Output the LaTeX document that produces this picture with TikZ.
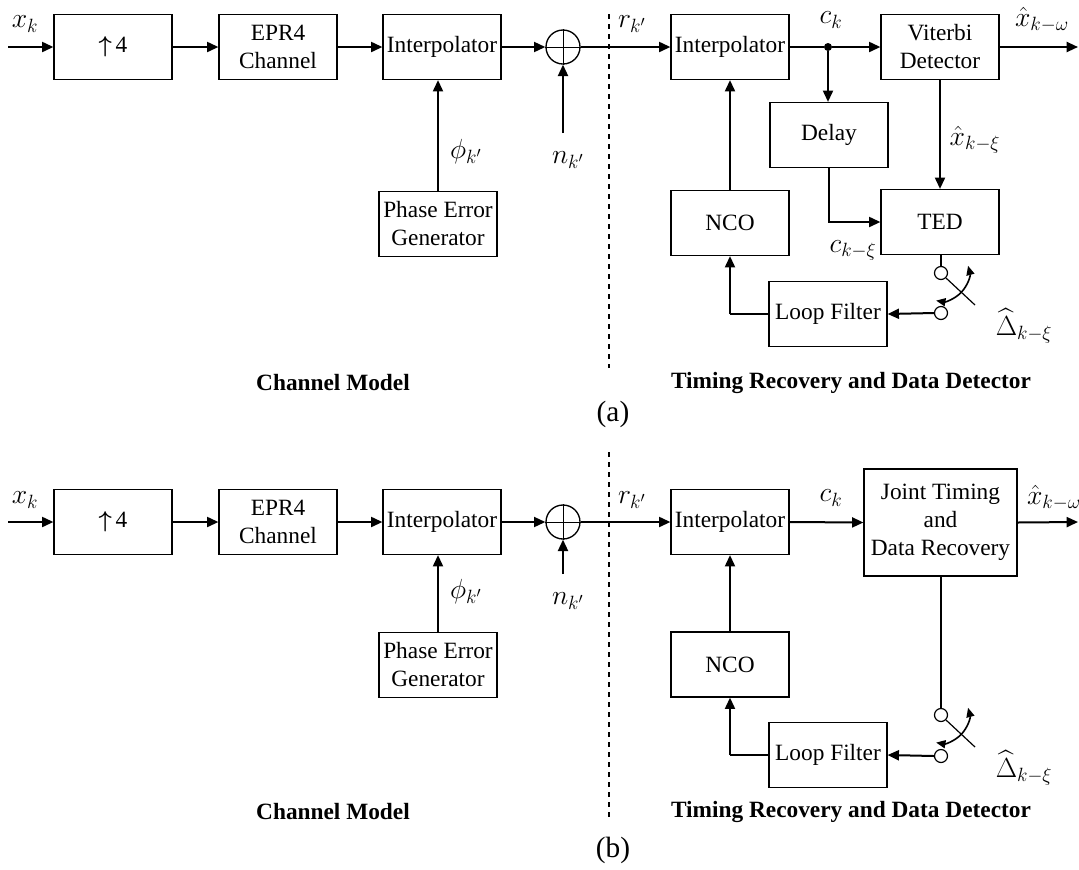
\documentclass[tikz,border=0pt]{standalone}
\usepackage{fontspec}
\usepackage{amsmath}
\setmainfont{Liberation Serif}
\usetikzlibrary{arrows.meta,calc}

\begin{document}
\begin{tikzpicture}[x=0.75pt,y=-0.75pt,
    font=\fontsize{17.5}{21}\selectfont,
    blk/.style={draw,line width=0.9pt,minimum width=88.5pt,minimum height=48.75pt,inner sep=0pt,align=center},
    bigblk/.style={blk,minimum width=114.75pt,minimum height=80.25pt},
    sig/.style={line width=1.5pt,-{Triangle[length=8.5pt,width=7.5pt]}},
    thinln/.style={line width=0.8pt},
    port/.style={draw,circle,line width=0.9pt,minimum size=9.75pt,inner sep=0pt},
    adder/.style={draw,circle,line width=1pt,minimum size=25.5pt,inner sep=0pt},
    knot/.style={fill,circle,minimum size=6pt,inner sep=0pt},
    lbl/.style={inner sep=0pt,font=\fontsize{22}{26}\selectfont},
    heading/.style={inner sep=0pt,font=\fontsize{17.5}{21}\selectfont\bfseries},
    caption/.style={inner sep=0pt,font=\fontsize{22}{26}\selectfont},
    swing/.style={line width=1.2pt,{Triangle[length=7pt,width=6pt]}-{Triangle[length=7pt,width=6pt]}},
    divider/.style={line width=0.8pt,dash pattern=on 4pt off 3.5pt}]
  \useasboundingbox (0,0) rectangle (1079,869);

  % (a)
  \node[blk] (up4a) at (113,47) {$\boldsymbol{\uparrow}$\,4};
  \node[blk] (epra) at (278,47) {EPR4\\Channel};
  \node[blk] (inta) at (442,47) {Interpolator};
  \node[adder] (suma) at (563,47) {};
  \node[blk] (pega) at (438,224) {Phase Error\\Generator};
  \node[blk] (int2a) at (730,47) {Interpolator};
  \node[knot] (dota) at (828,47) {};
  \node[blk] (vita) at (940,47) {Viterbi\\Detector};
  \node[blk] (dela) at (829,135) {Delay};
  \node[blk] (teda) at (940,222) {TED};
  \node[blk] (ncoa) at (730,223) {NCO};
  \node[blk] (lfa) at (828,314) {Loop Filter};
  \node[port] (swa1) at (941,273) {};
  \node[port] (swa2) at (941,313) {};
  \coordinate (xina) at (8,47);
  \coordinate (outa) at (1078,47);
  \coordinate (noisea) at (563,133);
  \coordinate (levera) at (975,305);
  \coordinate (cnra) at (ncoa.south |- lfa.west);

  \draw (suma.north) -- (suma.south) (suma.west) -- (suma.east);
  \draw[sig] (xina) -- (up4a.west);
  \draw[sig] (up4a.east) -- (epra.west);
  \draw[sig] (epra.east) -- (inta.west);
  \draw[sig] (inta.east) -- (suma.west);
  \draw[sig] (pega.north) -- (pega.north |- inta.south);
  \draw[sig] (noisea) -- (suma.south);
  \draw[sig] (suma.east) -- (int2a.west);
  \draw[line width=1.5pt] (int2a.east) -- (dota);
  \draw[sig] (dota) -- (vita.west);
  \draw[sig] (dota) -- (dota |- dela.north);
  \draw[sig] (vita.east) -- (outa);
  \draw[sig] (vita.south) -- (teda.north);
  \draw[sig] (dela.south) |- (teda.west);
  \draw[thinln] (teda.south -| swa1) -- (swa1.north);
  \draw[line width=0.9pt] (swa1.-45) -- (levera);
  \draw[swing] ($(swa1)+(-15:28)$) arc[start angle=-15,end angle=100,radius=28];
  \draw[sig] (swa2.west) -- (lfa.east);
  \draw[thinln] (lfa.west) -- (cnra);
  \draw[sig] (cnra) -- (ncoa.south);
  \draw[sig] (ncoa.north) -- (int2a.south);
  \draw[divider] (609,14) -- (609,368);

  \node[lbl] (xka) at (25,24) {$x_k$};
  \node[lbl] (phia) at (466,152) {$\phi_{k'}$};
  \node[lbl] (na) at (568,160) {$n_{k'}$};
  \node[lbl] (ra) at (632,24) {$r_{k'}$};
  \node[lbl] (cka) at (831,20) {$c_k$};
  \node[lbl] (xoa) at (1042,20) {$\hat{x}_{k-\omega}$};
  \node[lbl] (xia) at (975,140) {$\hat{x}_{k-\xi}$};
  \node[lbl] (cxa) at (853,250) {$c_{k-\xi}$};
  \node[lbl] (dlta) at (1024,326) {$\widehat{\Delta}_{k-\xi}$};
  \node[heading] (cma) at (333,383) {Channel Model};
  \node[heading] (tra) at (851,383) {Timing Recovery and Data Detector};
  \node[caption] (capa) at (613,414) {(a)};

  % (b)
  \node[blk] (up4b) at (113,522) {$\boldsymbol{\uparrow}$\,4};
  \node[blk] (eprb) at (278,522) {EPR4\\Channel};
  \node[blk] (intb) at (442,522) {Interpolator};
  \node[adder] (sumb) at (563,522) {};
  \node[blk] (pegb) at (438,665) {Phase Error\\Generator};
  \node[blk] (int2b) at (730,522) {Interpolator};
  \node[bigblk] (jtb) at (940.5,522.5) {Joint Timing\\and\\Data Recovery};
  \node[blk] (ncob) at (730,664.5) {NCO};
  \node[blk] (lfb) at (828,755) {Loop Filter};
  \node[port] (swb1) at (941,715) {};
  \node[port] (swb2) at (941,756) {};
  \coordinate (xinb) at (8,522);
  \coordinate (outb) at (1078,522);
  \coordinate (noiseb) at (563,574);
  \coordinate (leverb) at (975,747);
  \coordinate (cnrb) at (ncob.south |- lfb.west);

  \draw (sumb.north) -- (sumb.south) (sumb.west) -- (sumb.east);
  \draw[sig] (xinb) -- (up4b.west);
  \draw[sig] (up4b.east) -- (eprb.west);
  \draw[sig] (eprb.east) -- (intb.west);
  \draw[sig] (intb.east) -- (sumb.west);
  \draw[sig] (pegb.north) -- (pegb.north |- intb.south);
  \draw[sig] (noiseb) -- (sumb.south);
  \draw[sig] (sumb.east) -- (int2b.west);
  \draw[sig] (int2b.east) -- (jtb.west);
  \draw[sig] (jtb.east) -- (outb);
  \draw[thinln] (jtb.south -| swb1) -- (swb1.north);
  \draw[line width=0.9pt] (swb1.-45) -- (leverb);
  \draw[swing] ($(swb1)+(-15:28)$) arc[start angle=-15,end angle=100,radius=28];
  \draw[sig] (swb2.west) -- (lfb.east);
  \draw[thinln] (lfb.west) -- (cnrb);
  \draw[sig] (cnrb) -- (ncob.south);
  \draw[sig] (ncob.north) -- (int2b.south);
  \draw[divider] (609,452) -- (609,817);

  \node[lbl] (xkb) at (25,500) {$x_k$};
  \node[lbl] (phib) at (466,592) {$\phi_{k'}$};
  \node[lbl] (nb) at (568,601) {$n_{k'}$};
  \node[lbl] (rb) at (632,500) {$r_{k'}$};
  \node[lbl] (ckb) at (831,498) {$c_k$};
  \node[lbl] (xob) at (1054,498) {$\hat{x}_{k-\omega}$};
  \node[lbl] (dltb) at (1024,768) {$\widehat{\Delta}_{k-\xi}$};
  \node[heading] (cmb) at (333,812) {Channel Model};
  \node[heading] (trb) at (851,812) {Timing Recovery and Data Detector};
  \node[caption] (capb) at (613,850) {(b)};
\end{tikzpicture}
\end{document}
